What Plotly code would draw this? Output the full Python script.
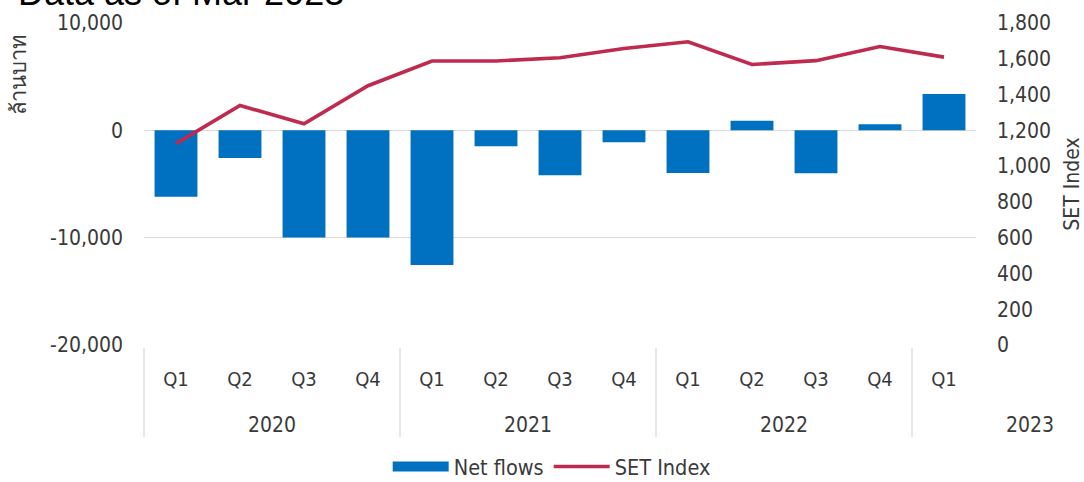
import plotly.graph_objects as go

# ---- data ----
quarters = ["Q1", "Q2", "Q3", "Q4", "Q1", "Q2", "Q3", "Q4", "Q1", "Q2", "Q3", "Q4", "Q1"]
years = ["2020", "2020", "2020", "2020", "2021", "2021", "2021", "2021",
         "2022", "2022", "2022", "2022", "2023"]
net_flows = [-6180, -2580, -9990, -9990, -12550, -1490, -4190, -1120,
             -3970, 900, -4010, 560, 3390]
set_index = [1125.86, 1339.03, 1237.04, 1449.35, 1587.21, 1587.79, 1605.68,
             1657.62, 1695.24, 1568.33, 1589.51, 1668.66, 1609.17]
left_ticks = [-20000, -10000, 0, 10000]
right_ticks = [0, 200, 400, 600, 800, 1000, 1200, 1400, 1600, 1800]
title_text = "Data as of Mar 2023"

BLUE = "#0070C0"
RED = "#BE2A50"
GRID = "#D9D9D9"
TXT = "#3A3A3A"
FONT = "DejaVu Sans Condensed"
FS = 21

x = list(range(len(quarters)))
xmin, xmax = -0.5, len(quarters) - 0.5
span = xmax - xmin

fig = go.Figure()
fig.add_trace(go.Bar(x=x, y=net_flows, marker=dict(color=BLUE, line=dict(width=0)),
                     width=0.67, name="Net flows", showlegend=False))
# legend swatch for the bars (wide block, as in the reference)
fig.add_trace(go.Scatter(x=[None], y=[None], mode="lines", name="Net flows",
                         line=dict(color=BLUE, width=10)))
fig.add_trace(go.Scatter(x=x, y=set_index, mode="lines", name="SET Index",
                         line=dict(color=RED, width=3.6), yaxis="y2"))

# year group labels and dividers
groups = []
for i, yv in enumerate(years):
    if not groups or groups[-1][0] != yv:
        groups.append([yv, i, i])
    else:
        groups[-1][2] = i

for yv, a, b in groups:
    if b - a + 1 < 4:
        cx = a + 1.5 - 0.15  # Excel centred the partial year over a wider slot
    else:
        cx = (a + b) / 2
    fig.add_annotation(x=(cx - xmin) / span, y=0, xref="paper", yref="paper", yshift=-80,
                       text=yv, showarrow=False, xanchor="center", yanchor="middle",
                       font=dict(family=FONT, size=FS, color=TXT))
    frac = (a - 0.5 - xmin) / span
    fig.add_shape(type="line", xref="paper", yref="paper", x0=frac, x1=frac,
                  y0=-0.01, y1=-0.286, line=dict(color=GRID, width=1.3))

# left axis title (Thai)
fig.add_annotation(x=0, y=1, xref="paper", yref="paper", xshift=-127, yshift=-52,
                   xanchor="center", yanchor="middle",
                   text="ล้านบาท", textangle=-90, showarrow=False,
                   font=dict(family="Noto Sans, " + FONT, size=22, color=TXT))
# top text (partly cut off at the top edge, as in the reference)
fig.add_annotation(x=0, y=1, xref="paper", yref="paper", xshift=-128, yshift=8,
                   xanchor="left", yanchor="bottom", text=title_text, showarrow=False,
                   font=dict(family="Liberation Sans, Arial", size=36, color="#000000"))

fig.update_layout(
    width=1084, height=482,
    margin=dict(l=144, r=108, t=23, b=137, autoexpand=False),
    paper_bgcolor="white", plot_bgcolor="white",
    font=dict(family=FONT, size=FS, color=TXT),
    xaxis=dict(range=[xmin, xmax], tickvals=x, ticktext=quarters, showgrid=False,
               zeroline=False, showline=False, ticks="", ticklabelstandoff=20,
               automargin=False, tickfont=dict(family=FONT, size=FS - 1, color=TXT)),
    yaxis=dict(range=[-20000, 10000], tickvals=left_ticks,
               ticktext=[f"{v:,}" for v in left_ticks],
               showgrid=True, gridcolor=GRID, gridwidth=1.3, zeroline=False,
               showline=False, ticks="", ticklabelstandoff=20, automargin=False,
               tickfont=dict(family=FONT, size=FS, color=TXT)),
    yaxis2=dict(range=[0, 1800], tickvals=right_ticks,
                ticktext=[f"{v:,}" for v in right_ticks],
                overlaying="y", side="right", showgrid=False, zeroline=False,
                showline=False, ticks="", ticklabelstandoff=20, automargin=False,
                title=dict(text="SET Index", standoff=17,
                           font=dict(family=FONT, size=FS, color=TXT)),
                tickfont=dict(family=FONT, size=FS, color=TXT)),
    legend=dict(orientation="h", x=0.49, xanchor="center", yref="container",
                y=1 - 446 / 482, yanchor="top",
                itemwidth=56, font=dict(family=FONT, size=21.5, color=TXT),
                bgcolor="rgba(0,0,0,0)"),
    showlegend=True,
)

# remove the page's default body margin so the figure sits at the window's corner
fig.write_html("out.html", config={"displayModeBar": False},
               post_script="document.body.style.margin='0';")
